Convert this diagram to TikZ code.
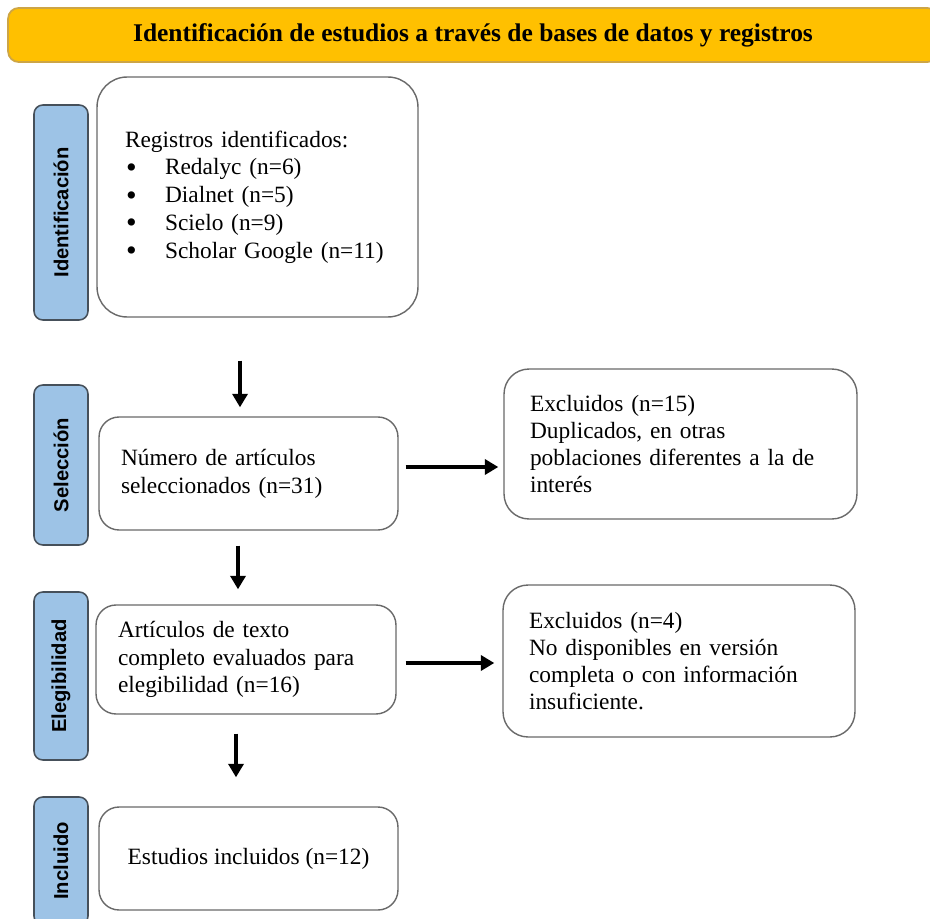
\documentclass[tikz,border=0pt]{standalone}
\usepackage{fontspec}
\setmainfont{Liberation Serif}
\setsansfont{Liberation Sans}
\usetikzlibrary{arrows.meta,positioning}
\definecolor{hdr}{RGB}{255,192,0}
\definecolor{hdrline}{RGB}{205,165,70}
\definecolor{side}{RGB}{157,195,230}
\definecolor{sideline}{RGB}{70,80,90}
\definecolor{boxline}{RGB}{105,105,105}
\tikzset{
  header/.style={draw=hdrline, fill=hdr, line width=1pt, rounded corners=6pt,
    minimum width=18.6cm, minimum height=1.08cm, inner sep=0pt,
    font=\fontsize{14.5}{16}\selectfont\bfseries},
  phase/.style={draw=sideline, fill=side, line width=0.9pt, rounded corners=5pt,
    rotate=90, minimum height=1.08cm, inner sep=0pt,
    font=\sffamily\bfseries\fontsize{11.5}{13}\selectfont},
  caja/.style={draw=boxline, fill=white, line width=0.8pt, rounded corners=0.4cm,
    align=left, inner ysep=0pt, font=\fontsize{13.3}{15.8}\selectfont},
  flecha/.style={line width=2.4pt, -{Triangle[length=0.27cm,width=0.3cm]}}
}
\newcommand{\bul}{\makebox[0.8cm][l]{\hspace{0.02cm}\smash{\raisebox{-0.1em}{\scalebox{1.3}{\textbullet}}}}}

\begin{document}
\begin{tikzpicture}[x=0.02cm, y=-0.02cm]
\useasboundingbox (0,0) rectangle (930,919);
\node[header] (hdr) at (473,35) {Identificación de estudios a través de bases de datos y registros};
% etiquetas de fase
\foreach [count = \i] \t/\y/\h in {Identificación/212.5/4.3cm, Selección/465/3.2cm, Elegibilidad/676/3.36cm, Incluido/861/2.56cm}{
\node[phase, minimum width=\h] (ph\i) at (61,\y) {\t};
}
% cajas
\node[caja, minimum width=6.42cm, minimum height=4.8cm, text width=5.3cm, inner xsep=0.56cm,
  rounded corners=0.6cm] (reg) at (257.5,197) {Registros identificados:\\
\bul Redalyc (n=6)\\
\bul Dialnet (n=5)\\
\bul Scielo (n=9)\\
\bul Scholar Google (n=11)};
\node[caja, minimum width=5.98cm, minimum height=2.26cm, text width=5.1cm, inner xsep=0.44cm] (num) at (248.5,473.5)
  {Número de artículos\\seleccionados (n=31)};
\node[caja, minimum width=6cm, minimum height=2.18cm, text width=5.12cm, inner xsep=0.44cm] (art) at (246,659.5)
  {Artículos de texto\\completo evaluados para\\elegibilidad (n=16)};
\node[caja, minimum width=5.98cm, minimum height=2.06cm, align=center] (est) at (248.5,858.5)
  {Estudios incluidos (n=12)};
\node[caja, minimum width=7.06cm, minimum height=3cm, text width=6.02cm, inner xsep=0.52cm,
  font=\fontsize{13.3}{15.3}\selectfont, rounded corners=0.5cm] (ex1) at (680.5,444)
  {Excluidos (n=15)\\Duplicados, en otras\\poblaciones diferentes a la de\\interés};
\node[caja, minimum width=7.04cm, minimum height=3.04cm, text width=6cm, inner xsep=0.52cm,
  font=\fontsize{13.3}{15.3}\selectfont, rounded corners=0.5cm] (ex2) at (679,661)
  {Excluidos (n=4)\\No disponibles en versión\\completa o con información\\insuficiente.};
% flechas
\draw[flecha, shorten <=0.86cm, shorten >=0.18cm] ([xshift=-0.35cm]reg.south) -- ([xshift=-0.35cm]reg.south |- num.north);
\draw[flecha, shorten <=0.3cm, shorten >=0.3cm] ([xshift=-0.21cm]num.south) -- ([xshift=-0.21cm]num.south |- art.north);
\draw[flecha, shorten <=0.38cm, shorten >=0.58cm] ([xshift=-0.2cm]art.south) -- ([xshift=-0.2cm]art.south |- est.north);
\draw[flecha, shorten <=0.14cm, shorten >=0.1cm] ([yshift=0.13cm]num.east) -- ([yshift=0.13cm]num.east -| ex1.west);
\draw[flecha, shorten <=0.18cm, shorten >=0.16cm] ([yshift=-0.07cm]art.east) -- ([yshift=-0.07cm]art.east -| ex2.west);
\end{tikzpicture}
\end{document}
